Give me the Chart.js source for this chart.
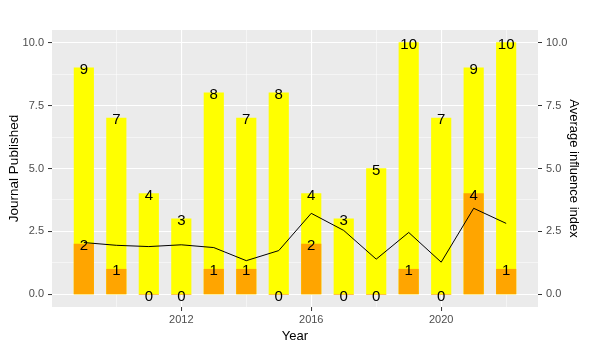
<!DOCTYPE html>
<html><head><meta charset="utf-8">
<script src="https://cdn.jsdelivr.net/npm/chart.js@4/dist/chart.umd.min.js"></script>
<style>html,body{margin:0;padding:0;background:#fff}canvas{display:block}</style>
</head><body>
<canvas id="c" width="592" height="350"></canvas>
<script>
const years = [2009,2010,2011,2012,2013,2014,2015,2016,2017,2018,2019,2020,2021,2022];
const journals = [9,7,4,3,8,7,8,4,3,5,10,7,9,10];
const influential = [2,1,0,0,1,1,0,2,0,0,1,0,4,1];
const avgInfluence = [2.06,1.95,1.90,1.97,1.86,1.34,1.74,3.22,2.54,1.40,2.46,1.28,3.42,2.82];
const xTicks = [2010,2012,2014,2016,2018,2020,2022];
const xLabelTicks = [2012,2016,2020];
const yTicks = [0,1.25,2.5,3.75,5,6.25,7.5,8.75,10];
const yLabelTicks = [0,2.5,5,7.5,10];

const FONT = "'Liberation Sans', Arial, sans-serif";
const isMajorY = v => yLabelTicks.includes(v);
const isMajorX = v => xLabelTicks.includes(v);
const tv = c => (c && c.tick) ? c.tick.value : null;

const panelBg = {
  id:'panelBg',
  beforeDraw(chart){
    const {ctx, chartArea:a} = chart;
    ctx.save(); ctx.fillStyle='#EBEBEB';
    ctx.fillRect(a.left, a.top, a.right-a.left, a.bottom-a.top);
    ctx.restore();
  }
};
const labels = {
  id:'labels',
  afterDatasetsDraw(chart){
    const {ctx} = chart;
    const xs = chart.scales.x, ys = chart.scales.y;
    ctx.save();
    ctx.font = '15px ' + FONT;
    ctx.fillStyle = '#000';
    ctx.textAlign='center'; ctx.textBaseline='middle';
    years.forEach((yr,i)=>{
      const px = xs.getPixelForValue(yr);
      ctx.fillText(String(journals[i]), px, ys.getPixelForValue(journals[i])+2);
      ctx.fillText(String(influential[i]), px, ys.getPixelForValue(influential[i])+2);
    });
    ctx.restore();
  }
};

function yAxis(extra){
  return Object.assign({
    type:'linear', min:-0.5, max:10.5,
    afterBuildTicks(s){ s.ticks = yTicks.map(v=>({value:v})); },
    border:{display:false},
    ticks:{
      autoSkip:false, padding:4, color:'#4D4D4D', font:{family:FONT,size:11},
      callback(v){ return isMajorY(v) ? v.toFixed(1) : ''; }
    }
  }, extra);
}

new Chart(document.getElementById('c'), {
  type:'bar',
  data:{
    datasets:[
      {type:'line', data:years.map((y,i)=>({x:y,y:avgInfluence[i]})), borderColor:'#000', borderWidth:1,
       pointRadius:0, tension:0, yAxisID:'y1', order:0},
      {data:years.map((y,i)=>({x:y,y:influential[i]})), backgroundColor:'#FFA500', barThickness:19.5, grouped:false, order:1},
      {data:years.map((y,i)=>({x:y,y:journals[i]})), backgroundColor:'#FFFF00', barThickness:19.5, grouped:false, order:2}
    ]
  },
  options:{
    responsive:false, animation:false, devicePixelRatio:1,
    layout:{padding:{left:0,right:0,top:30,bottom:0}},
    plugins:{legend:{display:false}, tooltip:{enabled:false}},
    scales:{
      x:{
        type:'linear', min:2008.02, max:2022.98, offset:false,
        afterBuildTicks(s){ s.ticks = xTicks.map(v=>({value:v})); },
        afterFit(s){ s.height = 43; },
        border:{display:false},
        grid:{
          offset:false,
          color:c=> isMajorX(tv(c))?'#FFFFFF':'rgba(255,255,255,0.85)',
          lineWidth:c=> isMajorX(tv(c))?1.1:0.6,
          tickColor:c=> isMajorX(tv(c))?'#333333':'rgba(0,0,0,0)',
          tickLength:4, tickWidth:1
        },
        ticks:{autoSkip:false, maxRotation:0, padding:2, color:'#4D4D4D', font:{family:FONT,size:11},
          callback(v){ return isMajorX(v) ? String(v) : ''; }},
        title:{display:true, text:'Year', color:'#000', font:{family:FONT,size:13}, padding:{top:0,bottom:6}}
      },
      y:yAxis({
        position:'left',
        afterFit(s){ s.width = 52; },
        grid:{
          offset:false,
          color:c=> isMajorY(tv(c))?'#FFFFFF':'rgba(255,255,255,0.85)',
          lineWidth:c=> isMajorY(tv(c))?1.1:0.6,
          tickColor:c=> isMajorY(tv(c))?'#333333':'rgba(0,0,0,0)',
          tickLength:4, tickWidth:1
        },
        title:{display:true, text:'Journal Published', color:'#000', font:{family:FONT,size:13.5}, padding:{top:6,bottom:0}}
      }),
      y1:yAxis({
        position:'right',
        afterFit(s){ s.width = 54; },
        grid:{
          offset:false,
          drawOnChartArea:false,
          color:'rgba(0,0,0,0)',
          tickColor:c=> isMajorY(tv(c))?'#333333':'rgba(0,0,0,0)',
          tickLength:4, tickWidth:1
        },
        title:{display:true, text:'Average influence index', color:'#000', font:{family:FONT,size:13}, padding:{top:11,bottom:0}}
      })
    }
  },
  plugins:[panelBg, labels]
});
</script>
</body></html>
